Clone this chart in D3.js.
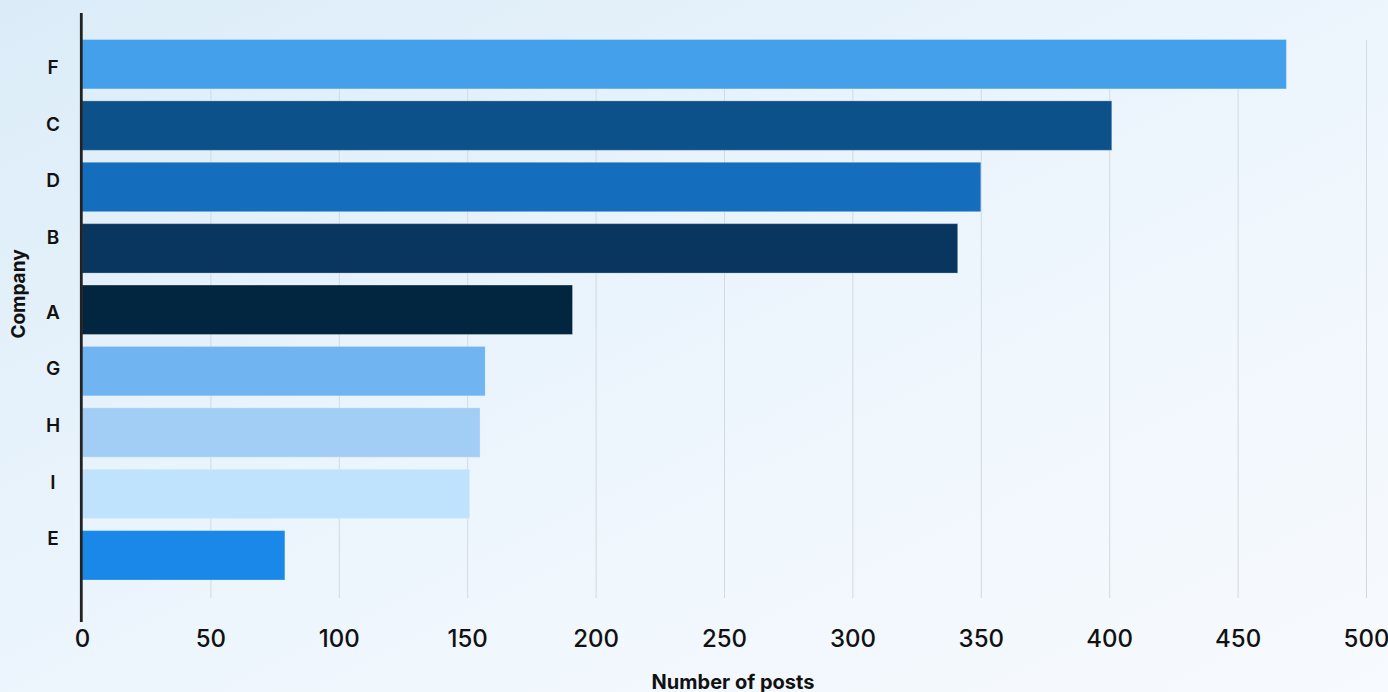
<!DOCTYPE html>
<html>
<head>
<meta charset="utf-8">
<script src="https://cdn.jsdelivr.net/npm/d3@7"></script>
<style>
html,body{margin:0;padding:0;}
body{width:1388px;height:692px;overflow:hidden;}
text{font-family:Inter,"Open Sans",sans-serif;fill:#111;}
</style>
</head>
<body>
<svg id="chart" width="1388" height="692"></svg>
<script>
const companies = ["F","C","D","B","A","G","H","I","E"];
const posts = [469, 401, 350, 341, 191, 157, 155, 151, 79];
const barColors = ["#45a0ec","#0d518b","#146dbd","#09365e","#022640","#70b4f1","#a2cef5","#bfe3fd","#1a88e8"];
const xTicks = [0,50,100,150,200,250,300,350,400,450,500];

const svg = d3.select("#chart");
const defs = svg.append("defs");
const grad = defs.append("linearGradient").attr("id","bg").attr("x1","0").attr("y1","0").attr("x2","1").attr("y2","1");
grad.append("stop").attr("offset","0").attr("stop-color","#dbecf8");
grad.append("stop").attr("offset","0.55").attr("stop-color","#eef6fd");
grad.append("stop").attr("offset","1").attr("stop-color","#f7fafe");
svg.append("rect").attr("width",1388).attr("height",692).attr("fill","url(#bg)");

const x = d3.scaleLinear().domain([0,500]).range([82,1366]);
const y = d3.scaleBand().domain(companies).range([39.5,580]).paddingInner(0.195).paddingOuter(0);
// category labels sit on their own scale, with a gap left for the axis title
const yLab = d3.scalePoint().domain(companies).range([67.3,520.1]);
const labGap = 18.3;

// gridlines
svg.append("g").selectAll("line").data(xTicks.filter(d=>d>0)).join("line")
  .attr("x1",d=>x(d)+0.5).attr("x2",d=>x(d)+0.5)
  .attr("y1",40).attr("y2",598)
  .attr("stroke","#d3d9df").attr("stroke-width",1);

// bars
svg.append("g").selectAll("rect").data(companies).join("rect")
  .attr("x",x(0)).attr("y",d=>y(d))
  .attr("width",(d,i)=>x(posts[i])-x(0))
  .attr("height",y.bandwidth())
  .attr("fill",(d,i)=>barColors[i])
  .attr("stroke","rgba(255,255,255,0.25)").attr("stroke-width",1);

// y axis line
svg.append("line").attr("x1",81.3).attr("x2",81.3).attr("y1",13).attr("y2",622)
  .attr("stroke","#222").attr("stroke-width",2.8);

// x axis
const xAxis = d3.axisBottom(x).tickValues(xTicks).tickSize(0).tickPadding(0);
const gx = svg.append("g").attr("transform","translate(0,630)").call(xAxis);
gx.select(".domain").remove();
gx.selectAll("text").attr("font-size",24).attr("font-weight",500)
  .attr("font-family","Inter, 'Open Sans', sans-serif").attr("fill","#111").attr("dy","0.71em");

// y category labels
svg.append("g").selectAll("text").data(companies).join("text")
  .attr("x",53)
  .attr("y",(d,i)=>yLab(d) + (i>=4 ? labGap : 0))
  .attr("dy","0.36em")
  .attr("text-anchor","middle")
  .attr("font-size",19).attr("font-weight",600)
  .text(d=>d);

// axis titles
svg.append("text").attr("x",733).attr("y",689).attr("text-anchor","middle")
  .attr("font-size",20).attr("font-weight",700).text("Number of posts");
svg.append("text").attr("transform","translate(25,294) rotate(-90)").attr("text-anchor","middle")
  .attr("font-size",19).attr("font-weight",700).text("Company");
</script>
</body>
</html>
